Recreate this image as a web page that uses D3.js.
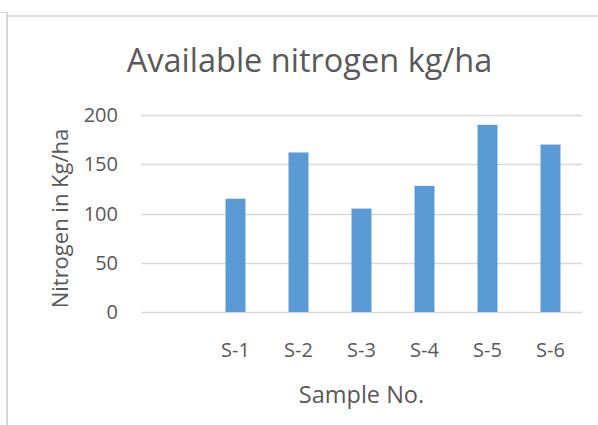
<!DOCTYPE html>
<meta charset="utf-8">
<head>
  <title>Available nitrogen</title>
</head>

<style>
body {
  margin: 0;
  background: #fff;
  font-family: "Open Sans", sans-serif;
}
</style>

<body>
  <div id="content">
    <svg width="598" height="425"></svg>
  </div>

  <script src="https://cdnjs.cloudflare.com/ajax/libs/d3/7.8.5/d3.min.js"></script>

  <script>
// first category is blank in the original sheet
var categories = ['', 'S-1', 'S-2', 'S-3', 'S-4', 'S-5', 'S-6'];
var values = [null, 115, 162, 105, 128, 190, 170];
var yTicks = [0, 50, 100, 150, 200];

var svg = d3.select('#content svg');

// frame edges: a short cell border, the left edge and the top edge
svg.append('line')
  .attr('x1', 0).attr('x2', 8).attr('y1', 12.5).attr('y2', 12.5)
  .attr('stroke', '#d9d9d9').attr('stroke-width', 1);
svg.append('line')
  .attr('x1', 7).attr('x2', 7).attr('y1', 12).attr('y2', 425)
  .attr('stroke', '#d9d9d9').attr('stroke-width', 2);
svg.append('line')
  .attr('x1', 8).attr('x2', 598).attr('y1', 16).attr('y2', 16)
  .attr('stroke', '#dedede').attr('stroke-width', 2);

var plot = {left: 141, right: 582, top: 115, bottom: 312};

var x = d3.scaleBand()
  .domain(categories.map(function(d, i) { return i; }))
  .range([plot.left, plot.right])
  .paddingInner(0.683)
  .paddingOuter(0.3415);

var y = d3.scaleLinear()
  .domain([0, 200])
  .range([plot.bottom, plot.top]);

// gridlines
svg.append('g')
  .selectAll('line')
  .data(yTicks)
  .join('line')
  .attr('x1', plot.left).attr('x2', plot.right)
  .attr('y1', function(d) { return Math.round(y(d)) + 0.5; })
  .attr('y2', function(d) { return Math.round(y(d)) + 0.5; })
  .attr('stroke', '#d9d9d9')
  .attr('stroke-width', 1.3);

// bars
svg.append('g')
  .selectAll('rect')
  .data(values.map(function(v, i) { return {i: i, v: v}; }).filter(function(d) { return d.v != null; }))
  .join('rect')
  .attr('x', function(d) { return x(d.i); })
  .attr('width', x.bandwidth())
  .attr('y', function(d) { return y(d.v); })
  .attr('height', function(d) { return y(0) - y(d.v); })
  .attr('fill', '#5b9bd5');

// y tick labels
svg.append('g')
  .selectAll('text')
  .data(yTicks)
  .join('text')
  .attr('x', 118)
  .attr('y', function(d) { return y(d); })
  .attr('dy', '0.36em')
  .attr('text-anchor', 'end')
  .attr('fill', '#595959')
  .style('font-size', '20px')
  .text(function(d) { return d; });

// x tick labels
svg.append('g')
  .selectAll('text')
  .data(categories)
  .join('text')
  .attr('x', function(d, i) { return x(i) + x.bandwidth() / 2; })
  .attr('y', 357)
  .attr('text-anchor', 'middle')
  .attr('fill', '#595959')
  .style('font-size', '20px')
  .text(function(d) { return d; });

// titles
svg.append('text')
  .attr('x', 309.5).attr('y', 72)
  .attr('text-anchor', 'middle')
  .attr('fill', '#595959')
  .style('font-size', '32.5px')
  .text('Available nitrogen kg/ha');

svg.append('text')
  .attr('x', 361.5).attr('y', 403)
  .attr('text-anchor', 'middle')
  .attr('fill', '#595959')
  .style('font-size', '23.5px')
  .text('Sample No.');

svg.append('text')
  .attr('transform', 'translate(68,218.5) rotate(-90)')
  .attr('text-anchor', 'middle')
  .attr('fill', '#595959')
  .style('font-size', '22px')
  .text('Nitrogen in Kg/ha');
  </script>
</body>
</html>
